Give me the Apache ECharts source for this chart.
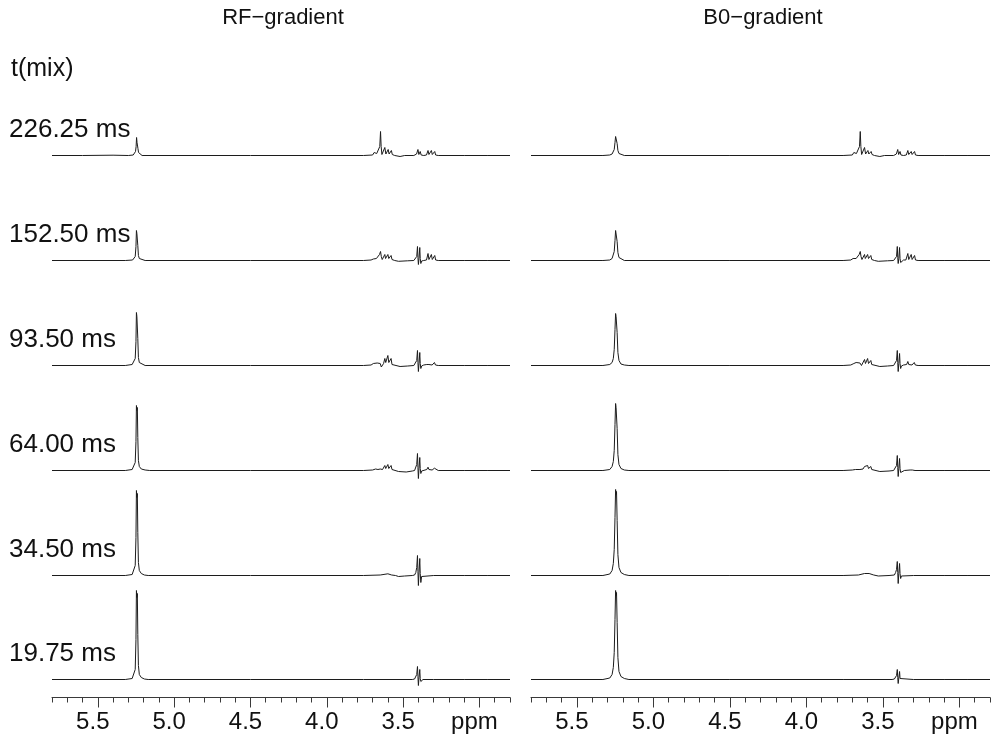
<!DOCTYPE html>
<html><head><meta charset="utf-8">
<script src="https://cdn.jsdelivr.net/npm/echarts@6/dist/echarts.min.js"></script>
<style>html,body{margin:0;padding:0;background:#fff}#c{width:991px;height:745px}</style>
</head><body><div id="c"></div>
<script>
// ---------- data ----------
const panelTitles = ['RF\u2212gradient', 'B0\u2212gradient'];
const mixHeader = 't(mix)';
const mixTimes = ['226.25 ms', '152.50 ms', '93.50 ms', '64.00 ms', '34.50 ms', '19.75 ms'];
const ppmRange = [2.8, 5.8];
const majorTicks = [3.0, 3.5, 4.0, 4.5, 5.0, 5.5];
const majorTickLabels = ['ppm', '3.5', '4.0', '4.5', '5.0', '5.5'];
const minorTicks = [2.8, 2.9, 3.1, 3.2, 3.3, 3.4, 3.6, 3.7, 3.8, 3.9, 4.1, 4.2, 4.3, 4.4, 4.6, 4.7, 4.8, 4.9, 5.1, 5.2, 5.3, 5.4, 5.6, 5.7, 5.8];

// RF-gradient spectra, [ppm, intensity]
const rf_226 = [[5.80,0],[5.60,0],[5.40,0.3],[5.30,0],[5.268,0.5],[5.26,2],[5.253,4],[5.249,9],[5.246,18],[5.243,13],[5.240,15],[5.237,7],[5.233,3],[5.225,1],[5.21,0],[4.5,0],
 [3.76,0],[3.70,0.5],[3.690,3],[3.685,2],[3.680,4],[3.673,2],[3.662,4],[3.653,9],[3.648,24],[3.644,9],[3.639,1],[3.630,2],[3.620,8],[3.613,1.5],[3.606,2],[3.598,6],[3.592,1.5],[3.585,2],[3.577,5],[3.571,1],[3.555,0],[3.52,-1],[3.49,0],[3.43,0],[3.412,1.5],[3.403,6],[3.397,1],[3.393,1.5],[3.388,4],[3.382,0.5],[3.365,0],[3.347,0.5],[3.337,5],[3.331,1],[3.324,1.5],[3.315,5],[3.309,1],[3.302,1.5],[3.293,4],[3.287,0.5],[3.27,0],[3.1,0],[2.95,0],[2.80,0]];
const rf_152 = [[5.80,0],[5.32,0],[5.272,0.5],[5.262,2],[5.255,4],[5.250,14],[5.247,30],[5.244,27],[5.241,29],[5.238,15],[5.234,5],[5.228,2],[5.215,0.5],[5.19,0],[4.5,0],
 [3.76,0],[3.71,0.5],[3.695,1.5],[3.685,3],[3.675,2],[3.665,4],[3.655,6],[3.648,9],[3.643,4],[3.637,1],[3.628,2],[3.620,6],[3.615,2],[3.608,3],[3.600,6],[3.594,2],[3.587,2],[3.579,5],[3.573,1],[3.555,0],[3.53,-0.8],[3.47,-0.3],[3.43,0],[3.418,1],[3.411,4],[3.406,14],[3.403,3],[3.400,-4],[3.396,2],[3.391,13],[3.388,2],[3.384,-3],[3.379,-0.5],[3.365,0],[3.347,0.5],[3.337,7],[3.331,1],[3.324,1.5],[3.315,6],[3.309,1],[3.302,1.5],[3.293,5],[3.287,0.5],[3.27,0],[3.1,0],[2.95,0],[2.80,0]];
const rf_93 = [[5.80,0],[5.32,0],[5.275,1],[5.262,3],[5.255,7],[5.250,24],[5.247,53],[5.244,49],[5.241,51],[5.238,27],[5.234,8],[5.228,3],[5.215,1],[5.19,0],[4.5,0],
 [3.76,0],[3.71,0.5],[3.695,2],[3.683,3],[3.670,2.5],[3.660,3],[3.650,2],[3.643,-1.5],[3.636,0],[3.628,2],[3.620,7],[3.614,3],[3.608,4],[3.600,10],[3.594,3],[3.587,3],[3.579,7],[3.573,1],[3.56,0],[3.52,-1],[3.47,-0.5],[3.43,0],[3.418,1],[3.411,5],[3.406,15],[3.403,3],[3.400,-6],[3.396,2],[3.391,13],[3.388,2],[3.384,-3],[3.379,-0.5],[3.365,0.5],[3.345,1],[3.337,3],[3.331,1],[3.31,0.5],[3.295,3],[3.288,0.5],[3.27,0],[3.1,0],[2.95,0],[2.80,0]];
const rf_64 = [[5.80,0],[5.32,0],[5.275,1],[5.262,3],[5.255,8],[5.250,29],[5.247,65],[5.244,60],[5.241,63],[5.238,33],[5.234,10],[5.228,4],[5.215,1.5],[5.19,0.5],[5.16,0],[4.5,0],
 [3.76,0],[3.70,0.5],[3.68,1.5],[3.665,1],[3.65,1.5],[3.635,1],[3.625,2],[3.620,5],[3.614,2],[3.608,2.5],[3.600,6],[3.594,2],[3.587,2],[3.579,5],[3.573,1],[3.56,0],[3.53,-1],[3.48,-1.5],[3.44,-0.5],[3.425,0],[3.418,2],[3.411,6],[3.406,17],[3.403,3],[3.400,-8],[3.396,2],[3.391,13],[3.388,2],[3.384,-3],[3.379,-0.5],[3.37,0.5],[3.345,1],[3.337,3.3],[3.331,1],[3.31,0.5],[3.295,2.3],[3.288,0.5],[3.27,0],[3.1,0],[2.95,0],[2.80,0]];
const rf_34 = [[5.80,0],[5.32,0],[5.275,1],[5.262,3],[5.255,10],[5.250,38],[5.247,85],[5.244,78],[5.241,82],[5.238,43],[5.234,13],[5.228,5],[5.215,2],[5.195,0.5],[5.17,0],[4.5,0],
 [3.76,0],[3.65,0.5],[3.60,1.7],[3.575,0.5],[3.55,0],[3.53,-1],[3.49,-0.5],[3.44,0],[3.425,0.5],[3.417,3],[3.411,8],[3.406,20],[3.403,4],[3.400,-10],[3.396,3],[3.391,17],[3.388,2],[3.384,-7],[3.379,-1],[3.37,0],[3.3,0],[3.1,0],[2.95,0],[2.80,0]];
const rf_19 = [[5.80,0],[5.32,0],[5.275,1],[5.262,3],[5.255,10],[5.250,40],[5.247,89],[5.244,82],[5.241,86],[5.238,45],[5.234,14],[5.228,5],[5.215,2],[5.195,0.5],[5.17,0],[4.5,0],
 [3.76,0],[3.44,0],[3.425,0.5],[3.417,2],[3.411,5],[3.406,13],[3.403,3],[3.400,-6],[3.396,2],[3.391,10],[3.388,1],[3.384,-2],[3.379,-0.5],[3.37,0],[3.3,0],[3.1,0],[2.95,0],[2.80,0]];

// B0-gradient spectra, [ppm, intensity]
const b0_226 = [[5.80,0],[5.33,0],[5.285,0.5],[5.27,1.5],[5.262,3],[5.256,6],[5.251,13],[5.247,19],[5.244,17],[5.241,18],[5.237,12],[5.232,5],[5.225,2],[5.212,0.5],[5.19,0],[4.5,0],
 [3.76,0],[3.70,0.5],[3.690,3],[3.685,2],[3.680,4],[3.673,2],[3.662,4],[3.653,9],[3.648,24],[3.644,9],[3.639,1],[3.630,2],[3.620,8],[3.613,1.5],[3.606,2],[3.598,5],[3.592,1.5],[3.585,2],[3.577,4],[3.571,1],[3.555,0],[3.52,-1],[3.49,0],[3.43,0],[3.412,1.5],[3.403,6],[3.397,1],[3.393,1.5],[3.388,4],[3.382,0.5],[3.365,0],[3.347,0.5],[3.337,5],[3.331,1],[3.324,1.5],[3.315,4],[3.309,1],[3.302,1.5],[3.293,4],[3.287,0.5],[3.27,0],[3.1,0],[2.95,0],[2.80,0]];
const b0_152 = [[5.80,0],[5.33,0],[5.285,0.5],[5.27,2],[5.262,4],[5.256,9],[5.251,20],[5.247,30],[5.244,28],[5.241,29],[5.237,19],[5.232,8],[5.225,3],[5.212,1],[5.19,0],[4.5,0],
 [3.76,0],[3.71,0.5],[3.695,2],[3.685,3],[3.675,2],[3.665,4],[3.655,6],[3.648,9],[3.643,4],[3.637,1],[3.628,2],[3.620,6],[3.615,2],[3.608,3],[3.600,6],[3.594,2],[3.587,2],[3.579,5],[3.573,1],[3.555,0],[3.53,-0.8],[3.47,-0.3],[3.43,0],[3.418,1],[3.411,4],[3.406,14],[3.403,3],[3.400,-3],[3.396,2],[3.391,13],[3.388,2],[3.384,-2],[3.379,-0.5],[3.365,0.5],[3.357,2],[3.350,0.5],[3.337,7],[3.331,1],[3.324,1.5],[3.315,6],[3.309,1],[3.302,1.5],[3.293,5],[3.287,0.5],[3.27,0],[3.1,0],[2.95,0],[2.80,0]];
const b0_93 = [[5.80,0],[5.33,0],[5.285,1],[5.27,3],[5.262,7],[5.256,16],[5.251,36],[5.247,52],[5.244,49],[5.241,51],[5.237,33],[5.232,13],[5.225,5],[5.212,1.5],[5.19,0.5],[5.16,0],[4.5,0],
 [3.76,0],[3.71,0.5],[3.690,2],[3.675,3],[3.662,2],[3.650,2.5],[3.640,0],[3.628,2],[3.620,6],[3.614,2],[3.608,3],[3.600,7],[3.594,2],[3.587,2],[3.579,5],[3.573,1],[3.56,0],[3.52,-1],[3.47,-0.5],[3.43,0],[3.418,1],[3.411,5],[3.406,15],[3.403,3],[3.400,-6],[3.396,2],[3.391,12],[3.388,2],[3.384,-3],[3.379,-0.5],[3.365,0.5],[3.345,1],[3.337,4],[3.331,1],[3.31,0.5],[3.295,3],[3.288,0.5],[3.27,0],[3.1,0],[2.95,0],[2.80,0]];
const b0_64 = [[5.80,0],[5.33,0],[5.285,1],[5.27,4],[5.262,9],[5.256,20],[5.251,46],[5.247,67],[5.244,63],[5.241,65],[5.237,42],[5.232,16],[5.225,6],[5.212,2],[5.19,0.5],[5.16,0],[4.5,0],
 [3.76,0],[3.70,0.5],[3.68,1],[3.65,1],[3.63,1.5],[3.620,4],[3.614,2],[3.608,2.5],[3.600,5],[3.594,2],[3.587,2],[3.579,4],[3.573,1],[3.56,0],[3.52,-1],[3.46,-0.5],[3.43,0],[3.418,1],[3.411,5],[3.406,15],[3.403,3],[3.400,-6],[3.396,2],[3.391,12],[3.388,2],[3.384,-2],[3.379,-0.5],[3.36,0],[3.322,0.5],[3.315,2],[3.308,0.5],[3.29,0],[3.1,0],[2.95,0],[2.80,0]];
const b0_34 = [[5.80,0],[5.33,0],[5.285,1.5],[5.27,5],[5.262,12],[5.256,26],[5.251,58],[5.247,86],[5.244,81],[5.241,84],[5.237,55],[5.232,21],[5.225,8],[5.212,3],[5.19,1],[5.16,0],[4.5,0],
 [3.76,0],[3.66,0.5],[3.62,2],[3.59,2],[3.56,0.5],[3.53,-0.5],[3.46,0],[3.425,0.5],[3.417,3],[3.411,6],[3.406,14],[3.403,3],[3.400,-8],[3.396,2],[3.391,12],[3.388,2],[3.384,-3],[3.379,-0.5],[3.37,0],[3.3,0],[3.1,0],[2.95,0],[2.80,0]];
const b0_19 = [[5.80,0],[5.33,0],[5.285,1.5],[5.27,5],[5.262,12],[5.256,27],[5.251,60],[5.247,89],[5.244,84],[5.241,87],[5.237,57],[5.232,22],[5.225,8],[5.212,3],[5.19,1],[5.16,0],[4.5,0],
 [3.76,0],[3.44,0],[3.425,0.5],[3.417,1.5],[3.411,4],[3.406,10],[3.403,2],[3.400,-4],[3.396,1.5],[3.391,8],[3.388,1],[3.384,-1],[3.379,0],[3.3,0],[3.1,0],[2.95,0],[2.80,0]];

const rfSpectra = [rf_226, rf_152, rf_93, rf_64, rf_34, rf_19];
const b0Spectra = [b0_226, b0_152, b0_93, b0_64, b0_34, b0_19];

// ---------- layout / style ----------
const FONT = '"Liberation Sans", Arial, Helvetica, sans-serif';
const panels = [{ left: 52, width: 458, spectra: rfSpectra, titleX: 283 },
                { left: 531, width: 459, spectra: b0Spectra, titleX: 763 }];
const baselines = [155, 260, 365, 470, 575, 679];
const ABOVE = 95, BELOW = 10;
const axisColor = '#3a3a3a';
const lineColor = '#1c1c1c';

const grid = [], xAxis = [], yAxis = [], series = [];
panels.forEach((p, pi) => {
  baselines.forEach((b, ri) => {
    const gi = grid.length;
    grid.push({ left: p.left, width: p.width, top: b - ABOVE + 0.5, height: ABOVE + BELOW });
    const isBottom = ri === baselines.length - 1;
    const xi = xAxis.length;
    xAxis.push({
      gridIndex: gi, type: 'value', min: ppmRange[0], max: ppmRange[1], inverse: true,
      position: 'bottom', show: isBottom, offset: 8,
      axisLine: { show: true, onZero: false, lineStyle: { color: axisColor, width: 1 } },
      axisTick: { show: true, customValues: majorTicks, length: 10, lineStyle: { color: axisColor, width: 1 } },
      axisLabel: {
        show: true, customValues: majorTicks, margin: 13, fontSize: 24, color: '#111', fontFamily: FONT,
        padding: [0, 10, 0, 0],
        formatter: v => majorTickLabels[majorTicks.findIndex(t => Math.abs(t - v) < 1e-6)]
      },
      splitLine: { show: false }
    });
    const yi = yAxis.length;
    yAxis.push({ gridIndex: gi, type: 'value', min: -BELOW, max: ABOVE, show: false });
    series.push({
      type: 'line', xAxisIndex: xi, yAxisIndex: yi, data: p.spectra[ri],
      symbol: 'none', showSymbol: false, silent: true, animation: false,
      lineStyle: { color: lineColor, width: 1 }
    });
    if (isBottom) {
      xAxis.push({
        gridIndex: gi, type: 'value', min: ppmRange[0], max: ppmRange[1], inverse: true,
        position: 'bottom', offset: 8,
        axisLine: { show: false, onZero: false },
        axisTick: { show: true, customValues: minorTicks, length: 5, lineStyle: { color: axisColor, width: 1 } },
        axisLabel: { show: false },
        splitLine: { show: false }
      });
    }
  });
});

const graphic = [];
panels.forEach((p, pi) => {
  graphic.push({ type: 'text', x: p.titleX, y: 18, style: { text: panelTitles[pi], fontSize: 22, fontFamily: FONT, fill: '#111', textAlign: 'center', textVerticalAlign: 'middle' } });
});
graphic.push({ type: 'text', x: 11, y: 69, style: { text: mixHeader, fontSize: 25, fontFamily: FONT, fill: '#111', textAlign: 'left', textVerticalAlign: 'middle' } });
mixTimes.forEach((t, i) => {
  graphic.push({ type: 'text', x: 9, y: baselines[i] - 25, style: { text: t, fontSize: 26, fontFamily: FONT, fill: '#111', textAlign: 'left', textVerticalAlign: 'middle' } });
});

const chart = echarts.init(document.getElementById('c'), null, { renderer: 'canvas' });
chart.setOption({ backgroundColor: '#fff', animation: false, grid, xAxis, yAxis, series, graphic });
</script>
</body></html>
